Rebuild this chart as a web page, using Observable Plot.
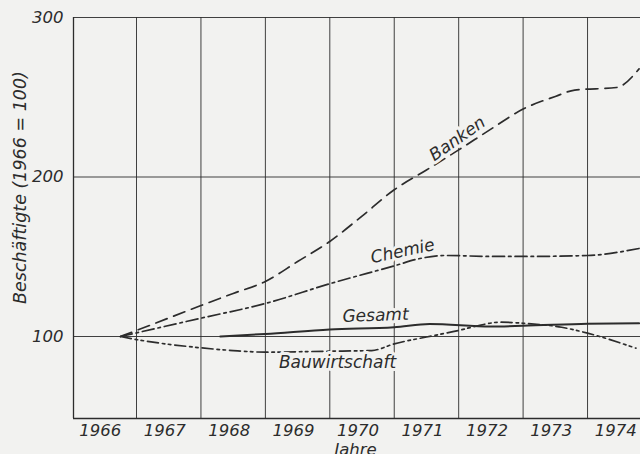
<!DOCTYPE html>
<html><head><meta charset="utf-8">
<script src="https://cdn.jsdelivr.net/npm/d3@7"></script>
<script src="https://cdn.jsdelivr.net/npm/@observablehq/plot@0.6"></script>
<style>
html,body{margin:0;padding:0;background:#f2f2f0;}
#chart svg{display:block;}
</style></head><body><div id="chart"></div>
<script>
// ---- data ----
const tickYears = [1966, 1967, 1968, 1969, 1970, 1971, 1972, 1973, 1974];
const gridYears = [1967, 1968, 1969, 1970, 1971, 1972, 1973, 1974];
const yTicks = [100, 200, 300];

const bankenYears  = [1966.75, 1967, 1968, 1968.5, 1969, 1969.5, 1970, 1970.5, 1971, 1971.5, 1972, 1972.5, 1973, 1973.5, 1973.8, 1974.45, 1974.8];
const bankenValues = [100, 103.8, 119.4, 127, 134.5, 147, 159.6, 175.5, 192, 204.4, 217, 230, 242.6, 250.5, 254.5, 256.1, 267.8];

const chemieYears  = [1966.75, 1967, 1968, 1969, 1970, 1971, 1971.4, 1971.8, 1972.5, 1973, 1974, 1974.8];
const chemieValues = [100, 102.3, 111.5, 120.7, 133.1, 144.3, 148.9, 150.8, 150.2, 150.2, 150.8, 155.2];

const gesamtYears  = [1968.3, 1969, 1970, 1971, 1971.55, 1972.5, 1973, 1974, 1974.8];
const gesamtValues = [100, 101.6, 104.4, 105.8, 107.9, 106.3, 106.7, 108.0, 108.3];

const bauYears  = [1966.75, 1967, 1968, 1968.5, 1969, 1970, 1970.65, 1971, 1971.5, 1972, 1972.25, 1972.65, 1973, 1973.6, 1974, 1974.75];
const bauValues = [100, 98.1, 92.9, 91.2, 90.2, 90.8, 91.2, 95.4, 99.7, 103.8, 106.3, 109.0, 108.3, 105.8, 102.1, 92.7];

const seriesLabels = ["Banken", "Chemie", "Gesamt", "Bauwirtschaft"];
const labelYears   = [1971.98, 1971.13, 1970.71, 1970.12];
const labelValues  = [224, 153.5, 113.2, 83.7];
const labelAngles  = [-35, -12, -2, 0];

const yTitle = "Beschäftigte (1966 = 100)";
const xTitle = "Jahre";

const xDomain = [1966.022, 1974.822];
const yDomain = [48.6, 300];

// ---- build tables ----
const mk = (name, xs, ys) => xs.map((x, i) => ({name, year: x, value: ys[i]}));
const banken = mk("Banken", bankenYears, bankenValues);
const chemie = mk("Chemie", chemieYears, chemieValues);
const gesamt = mk("Gesamt", gesamtYears, gesamtValues);
const bau = mk("Bauwirtschaft", bauYears, bauValues);
const labels = seriesLabels.map((t, i) => ({t, year: labelYears[i], value: labelValues[i], a: labelAngles[i]}));

const ink = "#2c2c2c";
const paper = "#f2f2f0";
const font = "'DejaVu Sans', sans-serif";

const lineOpts = {x: "year", y: "value", stroke: ink, strokeWidth: 1.7, curve: "monotone-x"};

const chart = Plot.plot({
  width: 640,
  height: 454,
  marginLeft: 73,
  marginRight: 0,
  marginTop: 17,
  marginBottom: 36,
  style: {background: paper, fontFamily: font, fontStyle: "italic", fontSize: "16px", color: ink, overflow: "visible"},
  x: {domain: xDomain},
  y: {domain: yDomain},
  marks: [
    Plot.ruleY(yTicks, {stroke: ink, strokeWidth: 1, strokeOpacity: 0.9}),
    Plot.ruleX(gridYears, {stroke: ink, strokeWidth: 1, strokeOpacity: 0.9}),
    Plot.ruleX([xDomain[0]], {stroke: ink, strokeWidth: 1.3}),
    Plot.ruleY([yDomain[0]], {stroke: ink, strokeWidth: 1.3}),
    Plot.axisY(yTicks, {tickSize: 0, tickPadding: 10, fontSize: 16.5, fill: ink, tickFormat: d => String(d), label: null}),
    Plot.axisX(tickYears.map(y => y + 0.5), {tickSize: 0, tickPadding: 6, dx: -4, fontSize: 16.5, fill: ink, tickFormat: d => String(Math.floor(d)), label: null}),
    Plot.line(banken, {...lineOpts, strokeDasharray: "12,7"}),
    Plot.line(chemie, {...lineOpts, strokeDasharray: "12,4,2.5,4"}),
    Plot.line(bau, {...lineOpts, strokeDasharray: "11,4,2.5,3.5,2.5,4"}),
    Plot.line(gesamt, {...lineOpts, strokeWidth: 2}),
    Plot.text(labels, {x: "year", y: "value", text: "t", rotate: "a", fontSize: 17, fill: ink, stroke: paper, strokeWidth: 6, fontStyle: "italic"}),
    Plot.text([yTitle], {text: d => d, frameAnchor: "left", y: () => 193.4, dx: -53, rotate: -90, textAnchor: "middle", fontSize: 17.5, fill: ink, fontStyle: "italic"}),
    Plot.text([xTitle], {text: d => d, x: () => 1970.4, frameAnchor: "bottom", dy: 36, lineAnchor: "bottom", fontSize: 16.5, fill: ink, fontStyle: "italic"})
  ]
});
document.getElementById("chart").appendChild(chart);
</script>
</body></html>
